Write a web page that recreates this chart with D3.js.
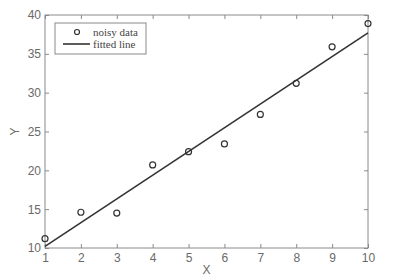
<!DOCTYPE html>
<html>
<head>
<meta charset="utf-8">
<script src="https://cdn.jsdelivr.net/npm/d3@7"></script>
<style>
  body { margin: 0; background: #fff; }
  svg { display: block; }
</style>
</head>
<body>
<svg id="chart" width="405" height="280"></svg>
<script>
// data
var xs = [1, 2, 3, 4, 5, 6, 7, 8, 9, 10];
var noisy = [11.2, 14.6, 14.5, 20.7, 22.4, 23.4, 27.2, 31.2, 35.9, 38.9];
var fitX = [1, 10];
var fitY = [10.2, 37.7];
var xTicks = [1, 2, 3, 4, 5, 6, 7, 8, 9, 10];
var yTicks = [10, 15, 20, 25, 30, 35, 40];

(function() {
  var svg = d3.select('#chart');
  var plotLeft = 45, plotRight = 368, plotTop = 15, plotBottom = 248;
  var axisColor = '#8a8a8a', textColor = '#6a6a6a';

  var x = d3.scaleLinear().domain([1, 10]).range([plotLeft, plotRight]);
  var y = d3.scaleLinear().domain([10, 40]).range([plotBottom, plotTop]);

  // frame
  svg.append('rect')
    .attr('x', plotLeft).attr('y', plotTop)
    .attr('width', plotRight - plotLeft).attr('height', plotBottom - plotTop)
    .attr('fill', 'none').attr('stroke', axisColor).attr('stroke-width', 1);

  var tickStyle = function(g) {
    g.select('.domain').remove();
    g.selectAll('.tick line').attr('stroke', axisColor);
    g.selectAll('.tick text')
      .attr('fill', textColor)
      .style('font-family', 'Liberation Sans, Arial, sans-serif')
      .style('font-size', '12px');
  };

  svg.append('g').attr('transform', 'translate(0,' + plotBottom + ')')
    .call(d3.axisBottom(x).tickValues(xTicks).tickSize(-4).tickPadding(5).tickFormat(d3.format('d')))
    .call(tickStyle);
  svg.append('g').attr('transform', 'translate(0,' + plotTop + ')')
    .call(d3.axisTop(x).tickValues(xTicks).tickSize(-4).tickFormat(''))
    .call(tickStyle);
  svg.append('g').attr('transform', 'translate(' + plotLeft + ',0)')
    .call(d3.axisLeft(y).tickValues(yTicks).tickSize(-4).tickPadding(4).tickFormat(d3.format('d')))
    .call(tickStyle);
  svg.append('g').attr('transform', 'translate(' + plotRight + ',0)')
    .call(d3.axisRight(y).tickValues(yTicks).tickSize(-4).tickFormat(''))
    .call(tickStyle);

  // axis labels
  svg.append('text')
    .attr('x', (plotLeft + plotRight) / 2).attr('y', 274)
    .attr('text-anchor', 'middle')
    .attr('fill', textColor)
    .style('font-family', 'Liberation Sans, Arial, sans-serif')
    .style('font-size', '12px')
    .text('X');
  svg.append('text')
    .attr('transform', 'translate(19,' + (plotTop + plotBottom) / 2 + ') rotate(-90)')
    .attr('text-anchor', 'middle')
    .attr('fill', textColor)
    .style('font-family', 'Liberation Sans, Arial, sans-serif')
    .style('font-size', '12px')
    .text('Y');

  // fitted line
  var line = d3.line().x(function(d) { return x(d[0]); }).y(function(d) { return y(d[1]); });
  svg.append('path')
    .datum(d3.zip(fitX, fitY))
    .attr('d', line)
    .attr('fill', 'none').attr('stroke', '#333').attr('stroke-width', 1.6);

  // noisy points
  svg.selectAll('circle.pt')
    .data(d3.zip(xs, noisy))
    .enter().append('circle')
    .attr('class', 'pt')
    .attr('cx', function(d) { return x(d[0]); })
    .attr('cy', function(d) { return y(d[1]); })
    .attr('r', 3)
    .attr('fill', 'none').attr('stroke', '#333').attr('stroke-width', 1.2);

  // legend
  var lg = svg.append('g');
  lg.append('rect')
    .attr('x', 55).attr('y', 23).attr('width', 91).attr('height', 31)
    .attr('fill', '#fff').attr('stroke', axisColor);
  lg.append('circle')
    .attr('cx', 77).attr('cy', 32).attr('r', 2.5)
    .attr('fill', 'none').attr('stroke', '#333').attr('stroke-width', 1.2);
  lg.append('line')
    .attr('x1', 63).attr('x2', 90).attr('y1', 44).attr('y2', 44)
    .attr('stroke', '#333').attr('stroke-width', 1.6);
  var legendLabels = ['noisy data', 'fitted line'];
  lg.selectAll('text.lab')
    .data(legendLabels)
    .enter().append('text')
    .attr('class', 'lab')
    .attr('x', 93)
    .attr('y', function(d, i) { return 35.5 + i * 12.5; })
    .attr('fill', '#444')
    .style('font-family', 'Liberation Serif, Times New Roman, serif')
    .style('font-size', '11px')
    .text(function(d) { return d; });
})();
</script>
</body>
</html>
